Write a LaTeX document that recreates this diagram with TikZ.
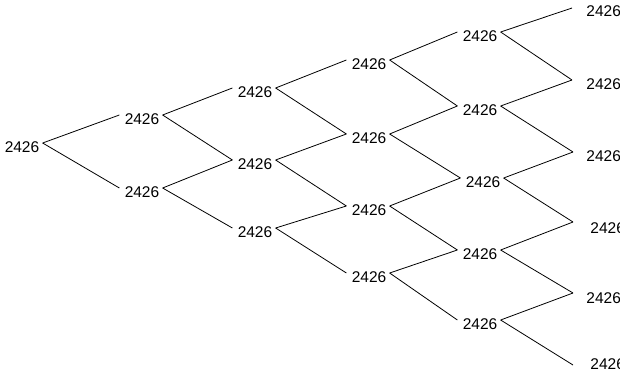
\documentclass[tikz,border=0pt]{standalone}
\usepackage{fontspec}
\setmainfont{Liberation Sans}
\begin{document}
\begin{tikzpicture}[x=1pt, y=-1pt, line width=0.8pt,
  val/.style={inner xsep=3pt, inner ysep=0pt, font=\fontsize{15.5}{18}\selectfont}]
  \useasboundingbox (0,0) rectangle (620,374);
  % levels 0 to 4
  \node[val] (n0) at (22,147) {2426};
  \node[val] (n1a) at (142,119) {2426};
  \node[val] (n1b) at (142,192) {2426};
  \node[val] (n2a) at (255,92) {2426};
  \node[val] (n2b) at (255,164) {2426};
  \node[val] (n2c) at (255,232) {2426};
  \node[val] (n3a) at (369,64) {2426};
  \node[val] (n3b) at (369,138) {2426};
  \node[val] (n3c) at (369,210) {2426};
  \node[val] (n3d) at (369,277) {2426};
  \node[val] (n4a) at (480,36) {2426};
  \node[val] (n4b) at (480,110) {2426};
  \node[val] (n4c) at (483,182) {2426};
  \node[val] (n4d) at (480,254) {2426};
  \node[val] (n4e) at (480,324) {2426};
  % level 5: line ends and labels
  \coordinate (c5a) at (572,8);
  \coordinate (c5b) at (572,80);
  \coordinate (c5c) at (573,152);
  \coordinate (c5d) at (573,222);
  \coordinate (c5e) at (573,293);
  \coordinate (c5f) at (573,365);
  \node[val, anchor=west, inner xsep=0pt] (l5a) at (586,11) {2426};
  \node[val, anchor=west, inner xsep=0pt] (l5b) at (586,84) {2426};
  \node[val, anchor=west, inner xsep=0pt] (l5c) at (586,156) {2426};
  \node[val, anchor=west, inner xsep=0pt] (l5d) at (590,228) {2426};
  \node[val, anchor=west, inner xsep=0pt] (l5e) at (586,298) {2426};
  \node[val, anchor=west, inner xsep=0pt] (l5f) at (590,364) {2426};
  % branches
  \foreach \p/\c in {n0/n1a, n0/n1b,
      n1a/n2a, n1a/n2b, n1b/n2b, n1b/n2c,
      n2a/n3a, n2a/n3b, n2b/n3b, n2b/n3c, n2c/n3c, n2c/n3d,
      n3a/n4a, n3a/n4b, n3b/n4b, n3b/n4c, n3c/n4c, n3c/n4d, n3d/n4d, n3d/n4e}
    \draw ([yshift=4pt]\p.east) -- ([xshift=-2pt,yshift=4pt]\c.west);
  \foreach \p/\c in {n4a/c5a, n4a/c5b, n4b/c5b, n4b/c5c, n4c/c5c, n4c/c5d,
      n4d/c5d, n4d/c5e, n4e/c5e, n4e/c5f}
    \draw ([yshift=4pt]\p.east) -- (\c);
\end{tikzpicture}
\end{document}
